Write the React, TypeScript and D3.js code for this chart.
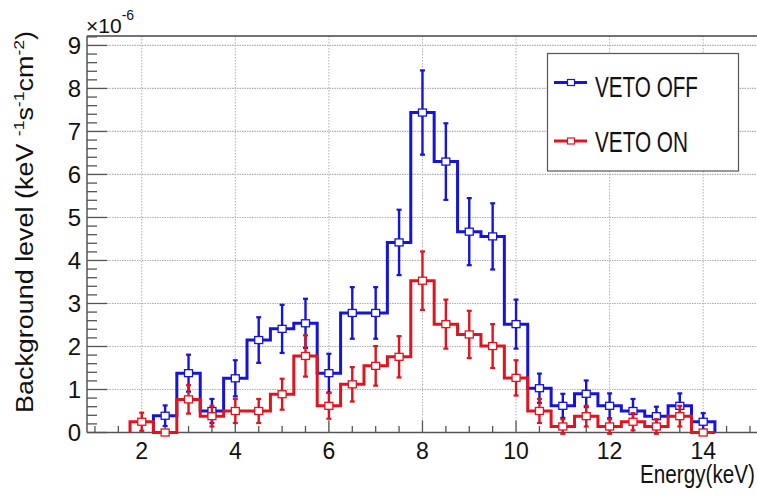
import React from "react";
import * as d3 from "d3";

const blueEnergies = [2.5, 3, 3.5, 4, 4.5, 5, 5.5, 6, 6.5, 7, 7.5, 8, 8.5, 9, 9.5, 10, 10.5, 11, 11.5, 12, 12.5, 13, 13.5, 14];
const vetoOff = [0.39, 1.38, 0.5, 1.26, 2.15, 2.41, 2.54, 1.38, 2.78, 2.78, 4.42, 7.44, 6.3, 4.67, 4.56, 2.52, 1.03, 0.62, 0.9, 0.62, 0.5, 0.38, 0.62, 0.25];
const vetoOffErr = [0.24, 0.43, 0.28, 0.42, 0.53, 0.56, 0.57, 0.45, 0.6, 0.6, 0.76, 0.98, 0.89, 0.78, 0.77, 0.57, 0.34, 0.28, 0.31, 0.29, 0.28, 0.22, 0.29, 0.2];

const redEnergies = [2, 2.5, 3, 3.5, 4, 4.5, 5, 5.5, 6, 6.5, 7, 7.5, 8, 8.5, 9, 9.5, 10, 10.5, 11, 11.5, 12, 12.5, 13, 13.5, 14];
const vetoOn = [0.25, 0, 0.77, 0.38, 0.5, 0.5, 0.89, 1.78, 0.62, 1.12, 1.55, 1.76, 3.53, 2.52, 2.28, 2.01, 1.27, 0.5, 0.14, 0.38, 0.14, 0.25, 0.14, 0.38, 0];
const vetoOnErr = [0.21, 0, 0.33, 0.24, 0.28, 0.28, 0.36, 0.48, 0.3, 0.4, 0.46, 0.48, 0.68, 0.57, 0.55, 0.51, 0.41, 0.28, 0.17, 0.24, 0.17, 0.2, 0.17, 0.24, 0];

const xTickValues = [2, 4, 6, 8, 10, 12, 14];
const yTickValues = [0, 1, 2, 3, 4, 5, 6, 7, 8, 9];
const binWidth = 0.5;

const BLUE = "#1414dc";
const RED = "#e4121c";
const FONT = "'Liberation Sans', Arial, Helvetica, sans-serif";

export default function App() {
  const W = 757, H = 498;
  const left = 87, right = 757, top = 36, bottom = 432.5;
  const x = d3.scaleLinear().domain([0.83, 15.15]).range([left, right]);
  const y = d3.scaleLinear().domain([0, 9.22]).range([bottom, top]);

  const stepPath = (es: number[], vs: number[]) => {
    const pts: [number, number][] = [];
    pts.push([es[0] - binWidth / 2, 0]);
    es.forEach((e, i) => {
      pts.push([e - binWidth / 2, vs[i]]);
      pts.push([e + binWidth / 2, vs[i]]);
    });
    pts.push([es[es.length - 1] + binWidth / 2, 0]);
    return d3.line<[number, number]>().x(d => x(d[0])).y(d => y(d[1]))(pts) || "";
  };

  const minorX = d3.range(1, 15.01, 0.5).filter(v => x(v) >= left && x(v) <= right);
  const minorY = d3.range(0, 9.21, 0.2);

  const series = [
    { es: blueEnergies, vs: vetoOff, err: vetoOffErr, color: BLUE },
    { es: redEnergies, vs: vetoOn, err: vetoOnErr, color: RED },
  ];

  return (
    <svg width={W} height={H} style={{ position: "fixed", left: 0, top: 0, background: "#fff" }} fontFamily={FONT}>
      <rect x={0} y={0} width={W} height={H} fill="#fff" />
      {/* grid */}
      {xTickValues.map(v => (
        <line key={"gx" + v} x1={x(v)} x2={x(v)} y1={top} y2={bottom} stroke="#b0b0b0" strokeWidth={1} strokeDasharray="1.5,1.5" />
      ))}
      {yTickValues.filter(v => v > 0).map(v => (
        <line key={"gy" + v} x1={left} x2={right} y1={y(v)} y2={y(v)} stroke="#b0b0b0" strokeWidth={1.2} strokeDasharray="1.5,1" />
      ))}
      {/* frame */}
      <line x1={left} x2={right} y1={top} y2={top} stroke="#444" strokeWidth={1.5} />
      <line x1={left} x2={left} y1={top} y2={bottom} stroke="#555" strokeWidth={1.5} />
      <line x1={left} x2={right} y1={bottom} y2={bottom} stroke="#555" strokeWidth={1.5} />
      {/* y ticks */}
      {minorY.map((v, i) => (
        <line key={"ty" + i} x1={left} x2={left + (i % 5 === 0 ? 20 : 10)} y1={y(v)} y2={y(v)} stroke="#555" strokeWidth={1.3} />
      ))}
      {yTickValues.map(v => (
        <text key={"ly" + v} x={81} y={y(v) + 8.5} textAnchor="end" fontSize={24} fill="#111">{v}</text>
      ))}
      {/* x ticks */}
      {minorX.map((v, i) => (
        <line key={"tx" + i} x1={x(v)} x2={x(v)} y1={bottom} y2={bottom - (Math.abs(v % 2) < 1e-6 ? 12 : 6.5)} stroke="#555" strokeWidth={1.3} />
      ))}
      {xTickValues.map(v => (
        <text key={"lx" + v} x={x(v)} y={459} textAnchor="middle" fontSize={23} fill="#111">{v}</text>
      ))}
      {/* exponent */}
      <text x={86} y={33} fontSize={21} fill="#111">×10<tspan fontSize={14} dy={-13}>-6</tspan></text>
      {/* axis titles */}
      <text x={640} y={483} fontSize={26} textLength={115} lengthAdjust="spacingAndGlyphs" fill="#111">Energy(keV)</text>
      <text transform="translate(33,413) rotate(-90)" fontSize={23} fill="#111" textLength={382} lengthAdjust="spacingAndGlyphs">
        Background level (keV <tspan fontSize={15} dy={-9}>-1</tspan><tspan dy={9}>s</tspan><tspan fontSize={15} dy={-9}>-1</tspan><tspan dy={9}>cm</tspan><tspan fontSize={15} dy={-9}>-2</tspan><tspan dy={9}>)</tspan>
      </text>
      {/* histograms */}
      {series.map((s, si) => (
        <g key={"s" + si}>
          <path d={stepPath(s.es, s.vs)} fill="none" stroke={s.color} strokeWidth={3} strokeLinejoin="miter" />
          {s.es.map((e, i) => s.err[i] > 0 ? (
            <g key={"e" + i}>
              <line x1={x(e)} x2={x(e)} y1={y(s.vs[i] - s.err[i])} y2={y(s.vs[i] + s.err[i])} stroke={s.color} strokeWidth={2.4} />
              <line x1={x(e) - 2.5} x2={x(e) + 2.5} y1={y(s.vs[i] - s.err[i])} y2={y(s.vs[i] - s.err[i])} stroke={s.color} strokeWidth={2.2} />
              <line x1={x(e) - 2.5} x2={x(e) + 2.5} y1={y(s.vs[i] + s.err[i])} y2={y(s.vs[i] + s.err[i])} stroke={s.color} strokeWidth={2.2} />
            </g>
          ) : null)}
          {s.es.map((e, i) => (
            <rect key={"m" + i} x={x(e) - 4} y={y(s.vs[i]) - 3.5} width={8} height={7} fill="#fff" stroke={s.color} strokeWidth={1.3} />
          ))}
        </g>
      ))}
      {/* legend */}
      <rect x={547.5} y={53.5} width={191} height={117.5} fill="#fff" stroke="#555" strokeWidth={1.2} />
      <line x1={554} x2={587} y1={82.5} y2={82.5} stroke={BLUE} strokeWidth={3} />
      <rect x={567.5} y={79.5} width={7} height={6} fill="#fff" stroke={BLUE} strokeWidth={1.2} />
      <text x={595} y={96.5} fontSize={29} textLength={103} lengthAdjust="spacingAndGlyphs" fill="#111">VETO OFF</text>
      <line x1={554} x2={587} y1={141} y2={141} stroke={RED} strokeWidth={3} />
      <rect x={567.5} y={138} width={7} height={6} fill="#fff" stroke={RED} strokeWidth={1.2} />
      <text x={595} y={152} fontSize={29} textLength={93} lengthAdjust="spacingAndGlyphs" fill="#111">VETO ON</text>
    </svg>
  );
}
